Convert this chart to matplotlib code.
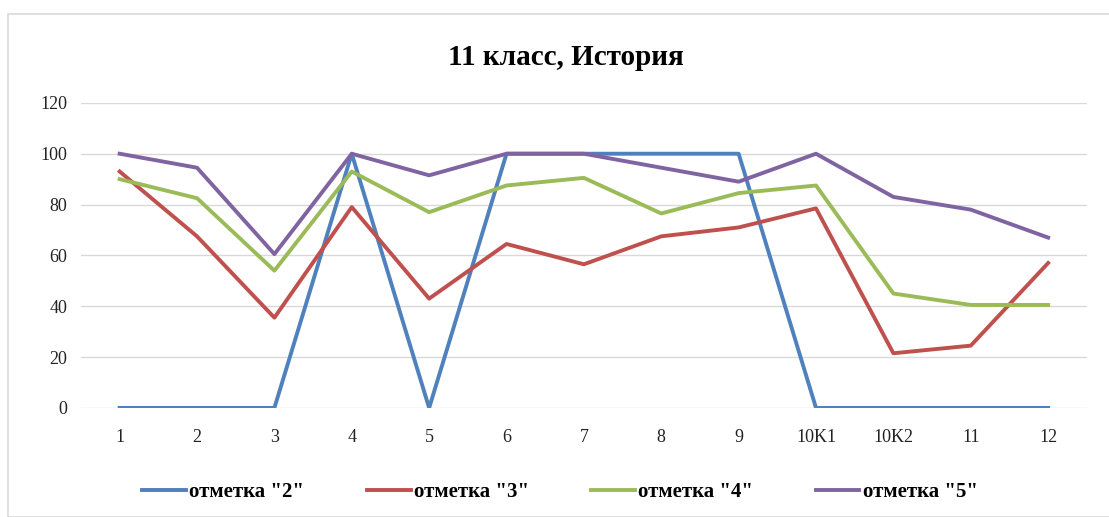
import matplotlib.pyplot as plt
from matplotlib.patches import Rectangle

categories = ['1', '2', '3', '4', '5', '6', '7', '8', '9', '10K1', '10K2', '11', '12']
mark2 = [0, 0, 0, 100, 0, 100, 100, 100, 100, 0, 0, 0, 0]
mark3 = [93, 67.5, 35.5, 79, 43, 64.5, 56.5, 67.5, 71, 78.5, 21.5, 24.5, 57]
mark4 = [90, 82.5, 54, 93, 77, 87.5, 90.5, 76.5, 84.5, 87.5, 45, 40.5, 40.5]
mark5 = [100, 94.5, 60.5, 100, 91.5, 100, 100, 94.5, 89, 100, 83, 78, 67]

series = [
    ('отметка "2"', mark2, '#4F81BD'),
    ('отметка "3"', mark3, '#C0504D'),
    ('отметка "4"', mark4, '#9BBB59'),
    ('отметка "5"', mark5, '#8064A2'),
]

plt.rcParams['font.family'] = ['Liberation Serif', 'DejaVu Serif']

fig = plt.figure(figsize=(11.09, 5.17), dpi=100)
# outer chart border
fig.patches.append(Rectangle((8 / 1109, 0.0), 1.0, 1 - 14 / 517, transform=fig.transFigure,
                             fill=False, edgecolor='#D9D9D9', linewidth=1.2))

ax = fig.add_axes([0.073, 0.211, 0.907, 0.590])
x = list(range(len(categories)))
for name, vals, col in series:
    ax.plot(x, vals, color=col, linewidth=2.8, label=name)

ax.set_xlim(-0.5, 12.5)
ax.set_ylim(0, 120)
ax.set_yticks(range(0, 121, 20))
ax.set_xticks(x)
ax.set_xticklabels(categories)
ax.grid(axis='y', color='#D9D9D9', linewidth=1)
ax.set_axisbelow(True)
for s in ax.spines.values():
    s.set_visible(False)
ax.tick_params(length=0, labelsize=13, colors='#222222')
ax.tick_params(axis='x', pad=15)
ax.tick_params(axis='y', pad=10)

fig.text(0.51, 0.888, '11 класс, История', ha='center', va='center',
         fontsize=21, fontweight='bold')

fig.legend(loc='center', bbox_to_anchor=(0.505, 0.048), ncol=4, frameon=False,
           prop={'size': 15, 'weight': 'bold'}, handlelength=2.1, handletextpad=0.15,
           columnspacing=3.0)

fig.savefig('out.png', dpi=100)
